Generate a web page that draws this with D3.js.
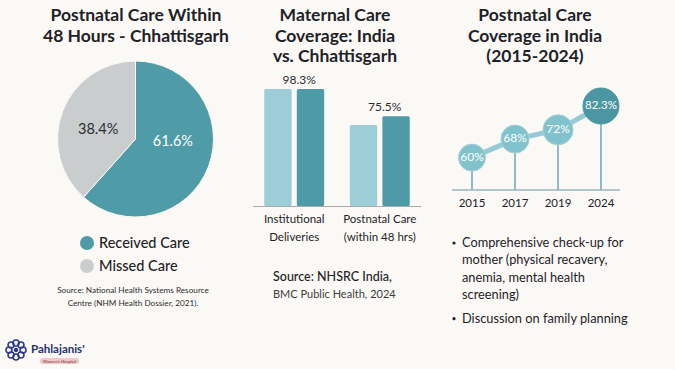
<!DOCTYPE html>
<html><head><meta charset="utf-8">
<script src="https://cdn.jsdelivr.net/npm/d3@7"></script>
<style>
html,body{margin:0;padding:0;background:#fbf9f6;}
svg{display:block;font-family:Lato, "Noto Sans", sans-serif;}
</style></head>
<body>
<svg id="c" width="675" height="369"></svg>
<script>
// Pie data
const pieLabels = ["Received Care", "Missed Care"];
const pieValues = [61.6, 38.4];
const pieColors = ["#4f9ba7", "#c9cdce"];

// Grouped bars
const barCategories = [["Institutional","Deliveries"], ["Postnatal Care","(within 48 hrs)"]];
const barSeries = ["India", "Chhattisgarh"];
const barIndia = [98.3, 68.0];
const barChhattisgarh = [98.3, 75.5];
const barLabels = ["98.3%", "75.5%"];

// Line (lollipop) chart
const years = ["2015", "2017", "2019", "2024"];
const coverage = [60, 68, 72, 82.3];
const coverageLabels = ["60%", "68%", "72%", "82.3%"];

const bullets = [
  ["Comprehensive check-up for", "mother (physical recavery,", "anemia, mental health", "screening)"],
  ["Discussion on family planning"]
];

const svg = d3.select("#c");
svg.append("rect").attr("width",675).attr("height",369).attr("fill","#fbf9f6");
const ink = "#1e2226";

function title(lines, cx, y0, dy){
  const t = svg.append("text").attr("text-anchor","middle").attr("fill",ink)
    .attr("font-size",17.5).attr("font-weight",700);
  lines.forEach((l,i)=>t.append("tspan").attr("x",cx).attr("y",y0+i*dy).text(l));
}

// ---------- Pie ----------
title(["Postnatal Care Within","48 Hours - Chhattisgarh"], 136, 21, 20.5);
const pg = svg.append("g").attr("transform","translate(135.5,139)");
const pie = d3.pie().sort(null).value(d=>d);
const arc = d3.arc().innerRadius(0).outerRadius(78);
const arcs = pie(pieValues);
pg.selectAll("path").data(arcs).join("path")
  .attr("d",arc).attr("fill",(d,i)=>pieColors[i]).attr("stroke","#fbf9f6").attr("stroke-width",1);
const labelArc = d3.arc().innerRadius(40).outerRadius(40);
pg.selectAll("text.pl").data(arcs).join("text")
  .attr("x",d=>labelArc.centroid(d)[0])
  .attr("y",d=>labelArc.centroid(d)[1]*0.4-2.5)
  .attr("text-anchor","middle").attr("dominant-baseline","middle")
  .attr("font-size",14.5)
  .attr("fill",(d,i)=>i===0?"#ffffff":"#2a2d30")
  .text((d,i)=>pieValues[i].toFixed(1)+"%");

const lg = svg.append("g");
pieLabels.forEach((l,i)=>{
  lg.append("circle").attr("cx",87).attr("cy",243+i*23).attr("r",7).attr("fill",pieColors[i]);
  lg.append("text").attr("x",99).attr("y",248+i*23).attr("font-size",14.5).attr("font-weight",500)
    .attr("fill",ink).text(l);
});
const src1 = svg.append("text").attr("text-anchor","middle").attr("font-size",8.2).attr("fill","#2a2d30");
src1.append("tspan").attr("x",133).attr("y",293).text("Source: National Health Systems Resource");
src1.append("tspan").attr("x",133).attr("y",306).text("Centre (NHM Health Dossier, 2021).");

// ---------- Bars ----------
title(["Maternal Care","Coverage: India","vs. Chhattisgarh"], 335, 21, 20.5);
const x0 = d3.scaleBand().domain([0,1]).range([254,420]).paddingInner(0.3).paddingOuter(0.12);
const x1 = d3.scaleBand().domain(barSeries).range([0,x0.bandwidth()]).paddingInner(0.16);
const yb = d3.scaleLinear().domain([0,100]).range([206,87]);
const barColors = {"India":"#9dcdd6","Chhattisgarh":"#4e9aa6"};
const bg = svg.append("g");
[0,1].forEach(ci=>{
  const vals = {"India":barIndia[ci],"Chhattisgarh":barChhattisgarh[ci]};
  barSeries.forEach(s=>{
    bg.append("rect").attr("x",x0(ci)+x1(s)).attr("y",yb(vals[s]))
      .attr("width",x1.bandwidth()).attr("height",206-yb(vals[s]))
      .attr("rx",1.5).attr("fill",barColors[s]);
  });
  const top = Math.max(barIndia[ci],barChhattisgarh[ci]);
  bg.append("text").attr("x",x0(ci)+x0.bandwidth()/2+5).attr("y",yb(top)-5)
    .attr("text-anchor","middle").attr("font-size",12).attr("fill","#2a2d30").text(barLabels[ci]);
  const t = bg.append("text").attr("text-anchor","middle").attr("font-size",11.5).attr("fill",ink);
  barCategories[ci].forEach((l,k)=>t.append("tspan").attr("x",x0(ci)+x0.bandwidth()/2).attr("y",223+k*17.5).text(l));
});
bg.append("line").attr("x1",253).attr("x2",421).attr("y1",206.5).attr("y2",206.5).attr("stroke","#a8aaab").attr("stroke-width",1.2);
svg.append("text").attr("x",273).attr("y",281).attr("font-size",12.5).attr("font-weight",500).attr("fill",ink).text("Source: NHSRC India,");
svg.append("text").attr("x",273).attr("y",298).attr("font-size",11).attr("fill","#3a3d40").text("BMC Public Health, 2024");

// ---------- Line ----------
title(["Postnatal Care","Coverage in India","(2015-2024)"], 535, 21, 20.5);
const xl = d3.scalePoint().domain(years).range([472,601]);
const yl = d3.scaleLinear().domain([46,82.3]).range([190,106]);
const lgp = svg.append("g");
lgp.append("line").attr("x1",452).attr("x2",620).attr("y1",190).attr("y2",190).attr("stroke","#9ab3b9").attr("stroke-width",1.5);
years.forEach((yr,i)=>{
  lgp.append("line").attr("x1",xl(yr)).attr("x2",xl(yr)).attr("y1",yl(coverage[i])).attr("y2",190)
    .attr("stroke","#8dbcc6").attr("stroke-width",2);
});
lgp.append("path").datum(coverage).attr("fill","none").attr("stroke","#95cbd4").attr("stroke-width",5)
  .attr("d",d3.line().x((d,i)=>xl(years[i])).y(d=>yl(d)));
const radii = [13.5,14,15,18];
years.forEach((yr,i)=>{
  const last = i===years.length-1;
  lgp.append("circle").attr("cx",xl(yr)).attr("cy",yl(coverage[i])).attr("r",radii[i])
    .attr("fill",last?"#4b96a2":"#82c2cd").attr("stroke",last?"#4b96a2":"#9fd0d8").attr("stroke-width",1);
  lgp.append("text").attr("x",xl(yr)).attr("y",yl(coverage[i])).attr("text-anchor","middle")
    .attr("dominant-baseline","middle").attr("font-size",last?11.5:12).attr("fill","#ffffff").text(coverageLabels[i]);
  lgp.append("text").attr("x",xl(yr)).attr("y",207).attr("text-anchor","middle").attr("font-size",11.5)
    .attr("fill",ink).text(yr);
});

// bullets
let by = 247;
bullets.forEach((b,bi)=>{
  svg.append("circle").attr("cx",454).attr("cy",by-4).attr("r",1.6).attr("fill",ink);
  b.forEach((l,k)=>{
    svg.append("text").attr("x",462).attr("y",by+k*17.3).attr("font-size",12.8).attr("fill",ink).text(l);
  });
  by += b.length*17.3 + 6.5;
});

// ---------- Logo ----------
const logo = svg.append("g").attr("transform","translate(16,350)");
d3.range(8).forEach(k=>{
  const a = k*Math.PI/4;
  logo.append("circle").attr("cx",7*Math.cos(a)).attr("cy",7*Math.sin(a)).attr("r",3)
    .attr("fill","none").attr("stroke","#2c3a8c").attr("stroke-width",1.6);
});
logo.append("circle").attr("r",2.2).attr("fill","#2c3a8c");
svg.append("text").attr("x",31).attr("y",353).attr("font-size",11.5).attr("font-weight",700).attr("fill","#25306e").text("Pahlajanis'");
svg.append("rect").attr("x",40).attr("y",358).attr("width",39).attr("height",6).attr("rx",3).attr("fill","#f2c7c8");
svg.append("text").attr("x",59.5).attr("y",362.8).attr("text-anchor","middle").attr("font-size",4.2).attr("fill","#7a3a40").text("Women's Hospital");
</script>
</body></html>
